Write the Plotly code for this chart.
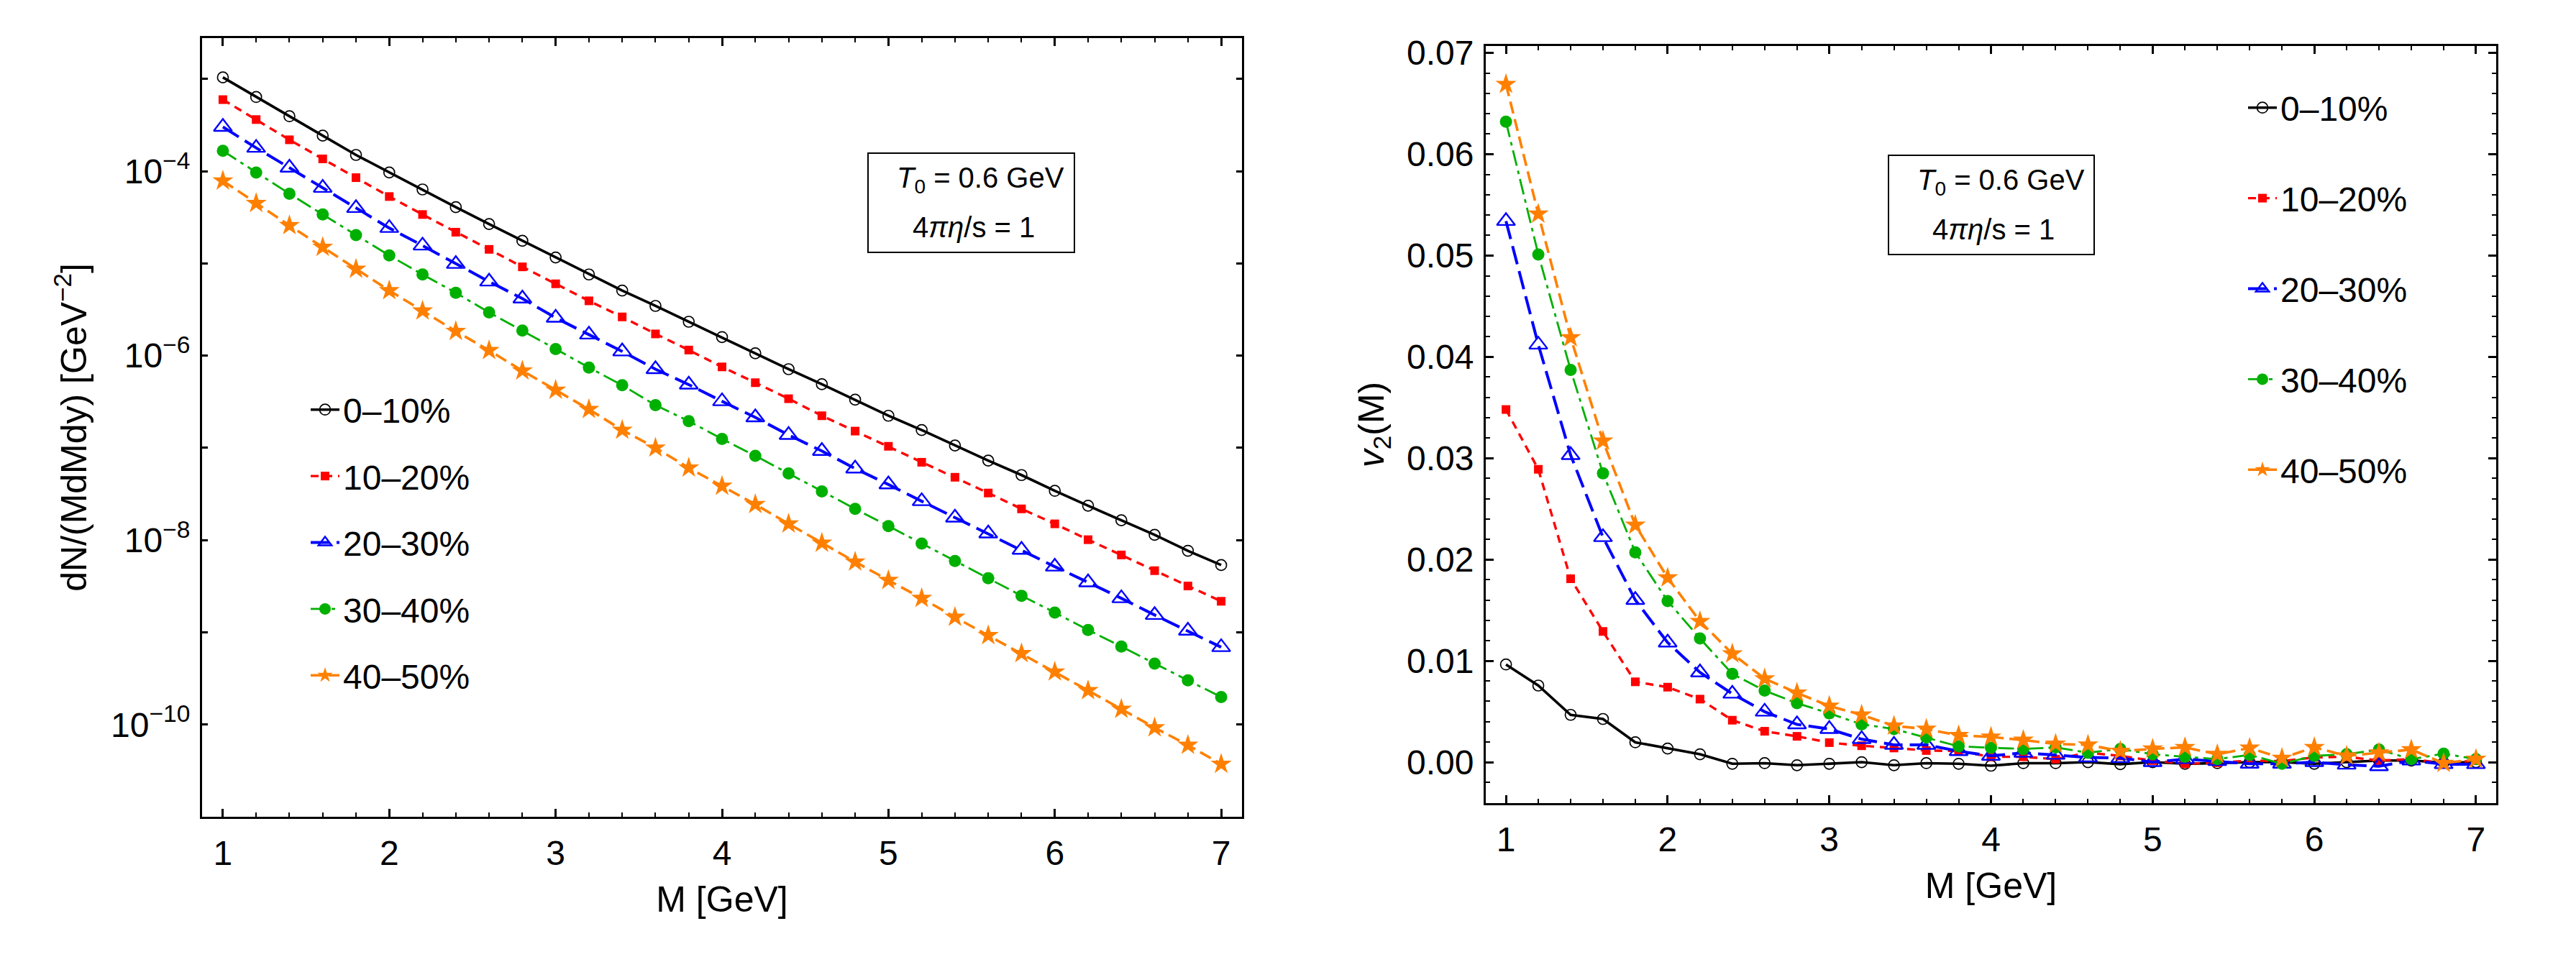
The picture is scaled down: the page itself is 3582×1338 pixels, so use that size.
import plotly.graph_objects as go

# ---------------- data ----------------
M = [1.0, 1.2, 1.4, 1.6, 1.8, 2.0, 2.2, 2.4, 2.6, 2.8, 3.0, 3.2, 3.4, 3.6, 3.8, 4.0,
     4.2, 4.4, 4.6, 4.8, 5.0, 5.2, 5.4, 5.6, 5.8, 6.0, 6.2, 6.4, 6.6, 6.8, 7.0]

labels = ["0–10%", "10–20%", "20–30%", "30–40%", "40–50%"]

# dN/(M dM dy) [GeV^-2]
dn_0_10 = [1.04e-3, 6.37e-4, 3.94e-4, 2.43e-4, 1.50e-4, 9.68e-5, 6.34e-5, 4.07e-5, 2.67e-5, 1.76e-5,
           1.16e-5, 7.59e-6, 5.08e-6, 3.46e-6, 2.33e-6, 1.59e-6, 1.06e-6, 7.13e-7, 4.90e-7, 3.33e-7,
           2.23e-7, 1.56e-7, 1.06e-7, 7.28e-8, 5.07e-8, 3.42e-8, 2.36e-8, 1.64e-8, 1.14e-8, 7.66e-9, 5.36e-9]
dn_10_20 = [5.97e-4, 3.63e-4, 2.19e-4, 1.36e-4, 8.51e-5, 5.31e-5, 3.39e-5, 2.18e-5, 1.42e-5, 9.18e-6,
            6.01e-6, 3.93e-6, 2.63e-6, 1.72e-6, 1.15e-6, 7.55e-7, 5.09e-7, 3.41e-7, 2.23e-7, 1.52e-7,
            1.04e-7, 6.98e-8, 4.80e-8, 3.24e-8, 2.18e-8, 1.50e-8, 1.01e-8, 6.90e-9, 4.66e-9, 3.18e-9, 2.17e-9]
dn_20_30 = [3.02e-4, 1.79e-4, 1.09e-4, 6.59e-5, 3.98e-5, 2.42e-5, 1.56e-5, 9.86e-6, 6.35e-6, 4.16e-6,
            2.57e-6, 1.69e-6, 1.11e-6, 7.13e-7, 4.85e-7, 3.20e-7, 2.14e-7, 1.38e-7, 9.25e-8, 5.96e-8,
            4.01e-8, 2.64e-8, 1.75e-8, 1.18e-8, 7.83e-9, 5.15e-9, 3.48e-9, 2.34e-9, 1.54e-9, 1.04e-9, 6.90e-10]
dn_30_40 = [1.66e-4, 9.68e-5, 5.70e-5, 3.39e-5, 2.03e-5, 1.22e-5, 7.59e-6, 4.80e-6, 2.94e-6, 1.87e-6,
            1.18e-6, 7.43e-7, 4.78e-7, 2.90e-7, 1.95e-7, 1.25e-7, 8.20e-8, 5.28e-8, 3.37e-8, 2.18e-8,
            1.42e-8, 9.16e-9, 5.94e-9, 3.85e-9, 2.49e-9, 1.64e-9, 1.06e-9, 7.01e-10, 4.58e-10, 3.01e-10, 1.99e-10]
dn_40_50 = [7.87e-5, 4.49e-5, 2.58e-5, 1.50e-5, 8.69e-6, 5.08e-6, 3.06e-6, 1.84e-6, 1.14e-6, 6.85e-7,
            4.24e-7, 2.62e-7, 1.56e-7, 1.00e-7, 6.07e-8, 3.85e-8, 2.44e-8, 1.50e-8, 9.31e-9, 5.81e-9,
            3.67e-9, 2.34e-9, 1.46e-9, 9.25e-10, 5.90e-10, 3.73e-10, 2.34e-10, 1.47e-10, 9.25e-11, 5.98e-11, 3.73e-11]

# v2(M)
v2_0_10 = [0.00964, 0.00756, 0.00467, 0.00426, 0.00196, 0.00134, 0.00078, -0.00016, -0.00010, -0.00030,
           -0.00016, 0.00000, -0.00030, -0.00010, -0.00016, -0.00035, -0.00010, -0.00010, 0.00000, -0.00020,
           0.00000, -0.00016, -0.00010, 0.00000, 0.00000, -0.00016, 0.00000, 0.00016, 0.00016, -0.00005, 0.00000]
v2_10_20 = [0.0348, 0.0289, 0.0181, 0.0129, 0.00793, 0.00740, 0.00622, 0.00414, 0.00305, 0.00255,
            0.00193, 0.00162, 0.00140, 0.00115, 0.00109, 0.00053, 0.00053, 0.00030, 0.00093, 0.00062,
            0.00016, -0.00016, -0.00006, 0.00016, 0.00010, 0.00047, 0.00053, 0.00016, 0.00030, -0.00010, 0.00016]
v2_20_30 = [0.0534, 0.0412, 0.0303, 0.0222, 0.0160, 0.0118, 0.00886, 0.00675, 0.00498, 0.00373,
            0.00327, 0.00227, 0.00171, 0.00171, 0.00109, 0.00062, 0.00093, 0.00072, 0.00047, 0.00040,
            0.00000, 0.00030, 0.00010, -0.00016, -0.00016, 0.00000, -0.00025, -0.00040, 0.00016, -0.00020, -0.00020]
v2_30_40 = [0.0632, 0.0501, 0.0387, 0.0285, 0.0207, 0.0159, 0.0122, 0.00871, 0.00706, 0.00582,
            0.00482, 0.00373, 0.00327, 0.00243, 0.00156, 0.00143, 0.00130, 0.00146, 0.00093, 0.00130,
            0.00078, 0.00053, 0.00030, 0.00072, -0.00016, 0.00062, 0.00078, 0.00124, 0.00030, 0.00084, 0.00030]
v2_40_50 = [0.0669, 0.0541, 0.0419, 0.0317, 0.0234, 0.0182, 0.0139, 0.0107, 0.00824, 0.00684,
            0.00554, 0.00467, 0.00358, 0.00327, 0.00264, 0.00249, 0.00218, 0.00180, 0.00171, 0.00109,
            0.00131, 0.00146, 0.00078, 0.00140, 0.00040, 0.00146, 0.00062, 0.00093, 0.00124, -0.00010, 0.00030]

yield_series = [dn_0_10, dn_10_20, dn_20_30, dn_30_40, dn_40_50]
v2_series = [v2_0_10, v2_10_20, v2_20_30, v2_30_40, v2_40_50]

# log-axis decades: labelled (major) and unlabelled (minor)
y_major_vals = [1e-10, 1e-8, 1e-6, 1e-4]
y_major_text = ["10<sup>−10</sup>", "10<sup>−8</sup>", "10<sup>−6</sup>", "10<sup>−4</sup>"]
y_minor_vals = [1e-11, 1e-9, 1e-7, 1e-5, 1e-3]

# ---------------- styles ----------------
colors = ["#000000", "#ff0000", "#0000ff", "#00b000", "#ff8000"]
dashes = ["solid", "11px,8px", "26px,10px", "22px,7px,5px,7px", "17px,8px"]
widths = [3.6, 3.4, 4.0, 2.8, 3.6]
symbols = ["circle-open", "square", "triangle-up-open", "circle", "star"]
msizes = [15, 12, 22, 17, 22]
mlinew = [1.7, 0, 2.4, 0, 0]

FONT = "Liberation Sans, Arial, sans-serif"

fig = go.Figure()

for i in range(5):
    fig.add_trace(go.Scatter(
        x=M, y=yield_series[i], mode="lines+markers", name=labels[i],
        line=dict(color=colors[i], dash=dashes[i], width=widths[i]),
        marker=dict(symbol=symbols[i], size=msizes[i], color=colors[i],
                    line=dict(color=colors[i], width=mlinew[i])),
        xaxis="x", yaxis="y", legend="legend", legendgroup="L%d" % i))

for i in range(5):
    fig.add_trace(go.Scatter(
        x=M, y=v2_series[i], mode="lines+markers", name=labels[i],
        line=dict(color=colors[i], dash=dashes[i], width=widths[i]),
        marker=dict(symbol=symbols[i], size=msizes[i], color=colors[i],
                    line=dict(color=colors[i], width=mlinew[i])),
        xaxis="x2", yaxis="y2", legend="legend2", legendgroup="R%d" % i))

W, H = 3582, 1338

common_axis = dict(
    showline=True, linecolor="black", linewidth=3, mirror="allticks",
    ticks="inside", tickcolor="black", tickwidth=2.5, ticklen=11,
    showgrid=False, zeroline=False, automargin=False,
    tickfont=dict(family=FONT, size=48, color="black"),
    title_font=dict(family=FONT, size=50, color="black"),
)

fig.update_layout(
    width=W, height=H,
    margin=dict(l=0, r=0, t=0, b=0),
    paper_bgcolor="white", plot_bgcolor="white",
    font=dict(family=FONT, color="black"),
    xaxis=dict(common_axis, domain=[281 / W, 1727 / W], range=[0.875, 7.125],
               anchor="y", tick0=1, dtick=1, ticklabelstandoff=6,
               minor=dict(ticks="inside", dtick=0.2, tick0=1, ticklen=6, tickwidth=2, tickcolor="black"),
               title=dict(text="M [GeV]", standoff=22)),
    yaxis=dict(common_axis, domain=[1 - 1136 / H, 1 - 53 / H], type="log",
               range=[-11.0, -2.557], anchor="x", ticklen=8,
               tickmode="array", tickvals=y_major_vals, ticktext=y_major_text, ticklabelstandoff=4,
               minor=dict(ticks="inside", tickmode="array", tickvals=y_minor_vals, ticklen=8,
                          tickwidth=2.5, tickcolor="black"),
               title=dict(text="dN/(MdMdy) [GeV<sup>−2</sup>]", standoff=18)),
    xaxis2=dict(common_axis, domain=[2066 / W, 3471 / W], range=[0.875, 7.125],
                anchor="y2", tick0=1, dtick=1, ticklabelstandoff=6,
                minor=dict(ticks="inside", dtick=0.2, tick0=1, ticklen=6, tickwidth=2, tickcolor="black"),
                title=dict(text="M [GeV]", standoff=22)),
    yaxis2=dict(common_axis, domain=[1 - 1117 / H, 1 - 64 / H], range=[-0.00404, 0.07067],
                anchor="x2", tick0=0, dtick=0.01, tickformat=".2f", ticklabelstandoff=4,
                minor=dict(ticks="inside", dtick=0.002, tick0=0, ticklen=6, tickwidth=2, tickcolor="black"),
                title=dict(text="<i>v</i><sub>2</sub>(M)", standoff=16)),
    legend=dict(x=427 / W, xanchor="left", y=1 - 532 / H, yanchor="top",
                font=dict(family=FONT, size=48, color="black"),
                bgcolor="rgba(0,0,0,0)", tracegroupgap=27, itemwidth=40),
    legend2=dict(x=3121 / W, xanchor="left", y=1 - 112 / H, yanchor="top",
                 font=dict(family=FONT, size=48, color="black"),
                 bgcolor="rgba(0,0,0,0)", tracegroupgap=60.5, itemwidth=40),
    showlegend=True,
)

# parameter boxes
boxes = [
    dict(x0=1207, x1=1494, y0=213, y1=351, l1=250, l2=316),
    dict(x0=2626, x1=2912, y0=216, y1=354, l1=253, l2=319),
]
for b in boxes:
    fig.add_shape(type="rect", xref="paper", yref="paper",
                  x0=b["x0"] / W, x1=b["x1"] / W, y0=1 - b["y1"] / H, y1=1 - b["y0"] / H,
                  line=dict(color="black", width=2), fillcolor="rgba(0,0,0,0)")
    xc = (b["x0"] + b["x1"]) / 2
    fig.add_annotation(xref="paper", yref="paper", x=(xc + 13) / W, y=1 - b["l1"] / H,
                       text="<i>T</i><sub>0</sub> = 0.6 GeV", showarrow=False,
                       font=dict(family=FONT, size=40, color="black"), xanchor="center", yanchor="middle")
    fig.add_annotation(xref="paper", yref="paper", x=(xc + 3) / W, y=1 - b["l2"] / H,
                       text="4<i>πη</i>/s = 1", showarrow=False,
                       font=dict(family=FONT, size=40, color="black"), xanchor="center", yanchor="middle")

fig.write_html("out.html")
